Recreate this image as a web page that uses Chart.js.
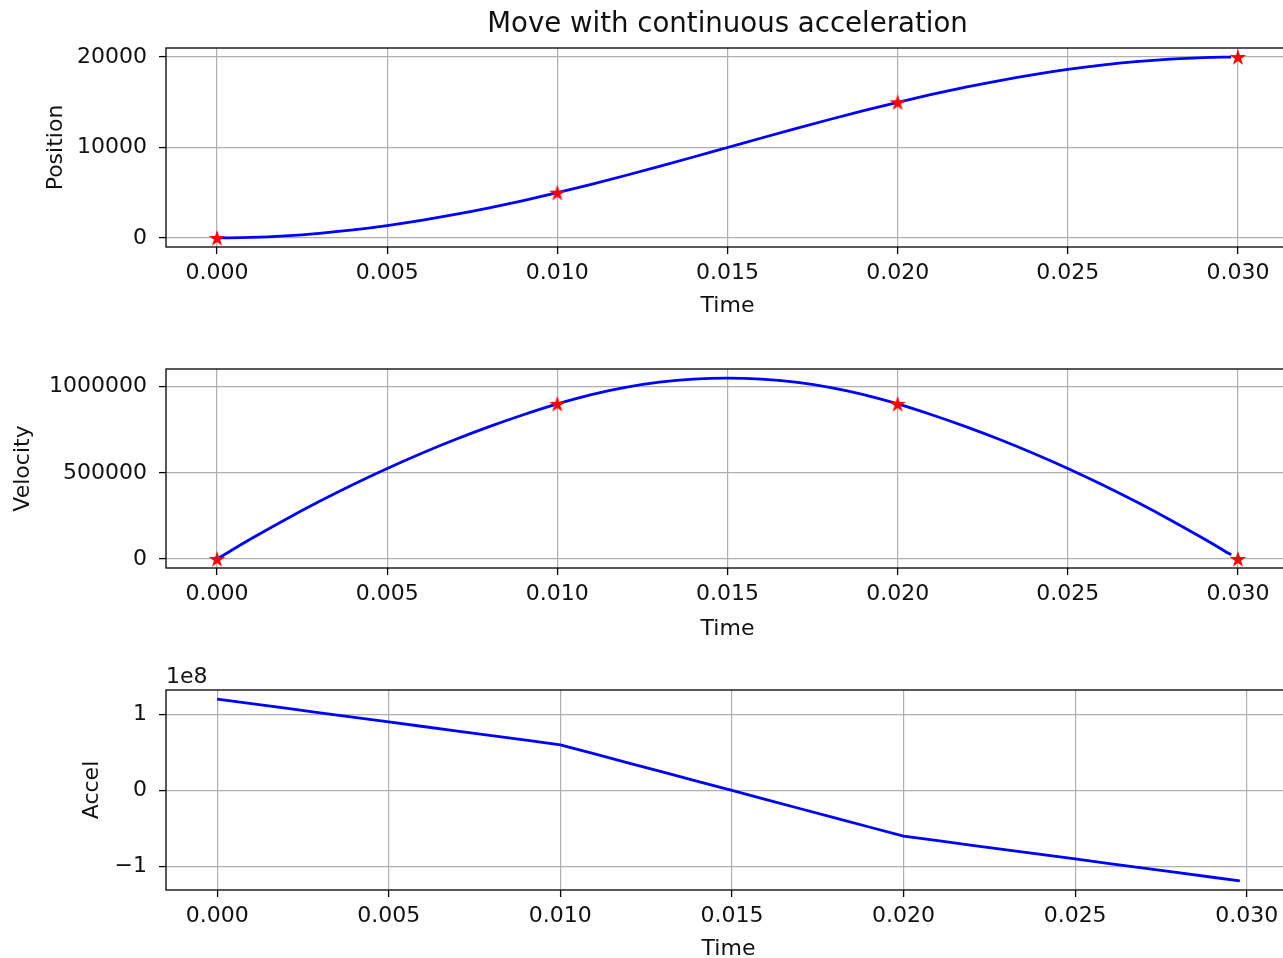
<!DOCTYPE html>
<html><head><meta charset="utf-8">
<script src="https://cdn.jsdelivr.net/npm/chart.js@4.4.0/dist/chart.umd.min.js"></script>
<style>
html,body{margin:0;padding:0;width:1283px;height:958px;overflow:hidden;background:#fff;}
.panel{position:absolute;left:0;width:1300px;height:330px;}
canvas{display:block;}
</style></head><body>
<div class="panel" style="top:0px"><canvas id="c1" width="1300" height="330"></canvas></div>
<div class="panel" style="top:330px"><canvas id="c2" width="1300" height="330"></canvas></div>
<div class="panel" style="top:650px"><canvas id="c3" width="1300" height="330"></canvas></div>
<script>
// ---- data ----
const time = [0,0.001,0.002,0.003,0.004,0.005,0.006,0.007,0.008,0.009,
              0.010,0.011,0.012,0.013,0.014,0.015,0.016,0.017,0.018,0.019,
              0.020,0.021,0.022,0.023,0.024,0.025,0.026,0.027,0.028,0.029,0.0298];
const position = [0,59,232,513,896,1375,1944,2597,3328,4131,
                  5000,5928,6904,7916,8952,10000,11048,12084,13096,14072,
                  15000,15869,16672,17403,18056,18625,19104,19487,19768,19941,19998];
const velocity = [0,117000,228000,333000,432000,525000,612000,693000,768000,837000,
                  900000,954000,996000,1026000,1044000,1050000,1044000,1026000,996000,954000,
                  900000,837000,768000,693000,612000,525000,432000,333000,228000,117000,24000];
const accel = [1.20e8,1.14e8,1.08e8,1.02e8,0.96e8,0.90e8,0.84e8,0.78e8,0.72e8,0.66e8,
               0.60e8,0.48e8,0.36e8,0.24e8,0.12e8,0,-0.12e8,-0.24e8,-0.36e8,-0.48e8,
               -0.60e8,-0.66e8,-0.72e8,-0.78e8,-0.84e8,-0.90e8,-0.96e8,-1.02e8,-1.08e8,-1.14e8,-1.188e8];
const markerTime = [0, 0.010, 0.020, 0.030];
const markerPosition = [0, 5000, 15000, 20000];
const markerVelocity = [0, 900000, 900000, 0];
const xTicks = [0, 0.005, 0.010, 0.015, 0.020, 0.025, 0.030];
const posTicks = [0, 10000, 20000];
const velTicks = [0, 500000, 1000000];
const accTicks = [-1e8, 0, 1e8];
const titleText = 'Move with continuous acceleration';
const xLabel = 'Time';
const yLabels = ['Position', 'Velocity', 'Accel'];

// ---- styling ----
const FONT = 'DejaVu Sans';
const TXT = '#111';
const GRID = '#b0b0b0';

function makeStar(size, R, color){
  const c=document.createElement('canvas'); c.width=size; c.height=size;
  const g=c.getContext('2d'); const cx=size/2, cy=size/2+0.7, r=R*0.381966;
  g.beginPath();
  for(let i=0;i<10;i++){const a=-Math.PI/2+i*Math.PI/5; const rad=i%2?r:R; g.lineTo(cx+rad*Math.cos(a), cy+rad*Math.sin(a));}
  g.closePath(); g.fillStyle=color; g.fill(); return c;
}
const star = makeStar(20, 8.6, '#ff0000');

function pts(xs, ys){ return xs.map((x,i)=>({x:x, y:ys[i]})); }
function range(vals){ const mn=Math.min(...vals), mx=Math.max(...vals), m=(mx-mn)*0.05; return [mn-m, mx+m]; }

const framePlugin = {
  id:'frame',
  afterDraw(chart){
    const {ctx, chartArea:a} = chart;
    ctx.save(); ctx.strokeStyle='#000'; ctx.lineWidth=1.3;
    ctx.strokeRect(a.left, a.top, a.right-a.left, a.bottom-a.top);
    const o = chart.options.plugins.extraText || {};
    ctx.fillStyle=TXT;
    if(o.title){ ctx.font='27.6px "'+FONT+'"'; ctx.textAlign='center'; ctx.textBaseline='alphabetic'; ctx.fillText(o.title, (a.left+a.right)/2, o.titleY); }
    if(o.offset){ ctx.font='22px "'+FONT+'"'; ctx.textAlign='left'; ctx.textBaseline='alphabetic'; ctx.fillText(o.offset, a.left, a.top-7); }
    ctx.restore();
  }
};

function makeChart(id, cfg){
  const xr = range(cfg.xVals), yr = range(cfg.yVals);
  const datasets = [];
  if(cfg.markers){
    datasets.push({data:pts(markerTime, cfg.markers), showLine:false, pointStyle:star, pointRadius:9, borderWidth:0, backgroundColor:'#f00', clip:false});
  }
  datasets.push({data:pts(time, cfg.series), showLine:true, borderColor:'#0000ff', borderWidth:2.8, pointRadius:0, fill:false,
                 cubicInterpolationMode: cfg.smooth ? 'monotone' : 'default', tension:0});
  return new Chart(document.getElementById(id), {
    type:'scatter',
    data:{datasets},
    options:{
      responsive:false, animation:false, devicePixelRatio:1, events:[],
      layout:{padding:{top:cfg.padTop, right:1300-cfg.right, left:0, bottom:0}},
      plugins:{legend:{display:false}, tooltip:{enabled:false}, extraText:cfg.extra||{}},
      scales:{
        x:{type:'linear', min:xr[0], max:xr[1],
           afterBuildTicks:s=>{s.ticks=xTicks.map(v=>({value:v}));},
           afterFit:s=>{s.height=cfg.xH;},
           grid:{color:GRID, lineWidth:1.2, tickColor:'#000', tickLength:7, tickWidth:1.3},
           border:{display:false},
           ticks:{autoSkip:false, maxRotation:0, padding:6.5, color:TXT, font:{family:FONT, size:22},
                  callback:v=>Number(v).toFixed(3)},
           title:{display:true, text:xLabel, color:TXT, font:{family:FONT, size:22}, padding:{top:0, bottom:cfg.xTitlePad}}},
        y:{type:'linear', min:yr[0], max:yr[1],
           afterBuildTicks:s=>{s.ticks=cfg.yTicks.map(v=>({value:v}));},
           afterFit:s=>{s.width=166;},
           grid:{color:GRID, lineWidth:1.2, tickColor:'#000', tickLength:7, tickWidth:1.3},
           border:{display:false},
           ticks:{autoSkip:false, padding:12, color:TXT, font:{family:FONT, size:22}, callback:cfg.yFmt},
           title:{display:true, text:cfg.yLabel, color:TXT, font:{family:FONT, size:22}, padding:{top:cfg.yTitlePad, bottom:0}}}
      }
    },
    plugins:[framePlugin]
  });
}

makeChart('c1', {series:position, markers:markerPosition, smooth:true,
  xVals:time.concat(markerTime), yVals:position.concat(markerPosition),
  yTicks:posTicks, yFmt:v=>String(v), yLabel:yLabels[0], yTitlePad:43.5,
  padTop:48, right:1289, xH:83, xTitlePad:10.8,
  extra:{title:titleText, titleY:32}});
makeChart('c2', {series:velocity, markers:markerVelocity, smooth:true,
  xVals:time.concat(markerTime), yVals:velocity.concat(markerVelocity),
  yTicks:velTicks, yFmt:v=>String(v), yLabel:yLabels[1], yTitlePad:10.5,
  padTop:39, right:1289, xH:92, xTitlePad:17.8});
makeChart('c3', {series:accel, markers:null, smooth:false,
  xVals:time, yVals:accel,
  yTicks:accTicks, yFmt:v=>v===0?'0':(v<0?'\u2212':'')+String(Math.abs(Math.round(v/1e8))), yLabel:yLabels[2], yTitlePad:79,
  padTop:40, right:1291, xH:90, xTitlePad:17.8,
  extra:{offset:'1e8'}});
</script>
</body></html>
